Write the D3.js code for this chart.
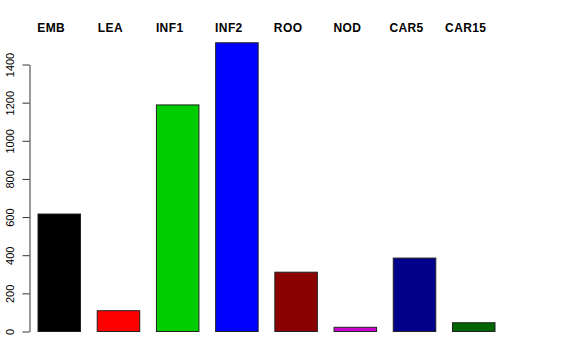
<!DOCTYPE html>
<html>
<head>
<meta charset="utf-8">
<script src="https://cdn.jsdelivr.net/npm/d3@7"></script>
<style>
  body { margin: 0; background: #fff; }
  svg { display: block; font-family: "Liberation Sans", Arial, sans-serif; }
</style>
</head>
<body>
<script>
var categories = ["EMB", "LEA", "INF1", "INF2", "ROO", "NOD", "CAR5", "CAR15"];
var values = [616, 109, 1188, 1514, 311, 22, 385, 46];
var colors = ["#000000", "#ff0000", "#00cd00", "#0000ff", "#8b0000", "#cd00cd", "#00008b", "#006400"];
var yTicks = [0, 200, 400, 600, 800, 1000, 1200, 1400];

var svg = d3.select("body").append("svg")
    .attr("width", 576)
    .attr("height", 360);

var x = d3.scaleBand()
    .domain(categories)
    .range([38, 495])
    .paddingInner(0.282)
    .paddingOuter(0);

var y = d3.scaleLinear()
    .domain([0, 1400])
    .range([331.5, 64.5]);

// bars
svg.selectAll("rect.bar")
    .data(categories)
    .enter()
    .append("rect")
    .attr("class", "bar")
    .attr("x", function (d) { return x(d); })
    .attr("y", function (d, i) { return y(values[i]); })
    .attr("width", x.bandwidth())
    .attr("height", function (d, i) { return y(0) - y(values[i]); })
    .style("fill", function (d, i) { return colors[i]; })
    .style("stroke", "#222")
    .style("stroke-width", 1);

// labels on top
svg.selectAll("text.lab")
    .data(categories)
    .enter()
    .append("text")
    .attr("class", "lab")
    .attr("x", function (d) { return x(d) + x.bandwidth() / 2 - 8; })
    .attr("y", 32)
    .attr("text-anchor", "middle")
    .style("font-size", "12px")
    .style("font-weight", "bold")
    .style("letter-spacing", "0.4px")
    .text(function (d) { return d; });

// y axis, R style
var yAxis = d3.axisLeft(y).tickValues(yTicks).tickFormat(d3.format("d"))
    .tickSize(7).tickSizeOuter(0).tickPadding(0);
var g = svg.append("g")
    .attr("transform", "translate(29.5,0)")
    .call(yAxis);
g.select(".domain").attr("stroke", "#333");
g.selectAll(".tick line").attr("stroke", "#333");
g.selectAll(".tick text")
    .attr("x", 0).attr("dy", 0)
    .attr("text-anchor", "middle")
    .attr("transform", "translate(-16,0) rotate(-90)")
    .style("font-size", "11px")
    .style("font-family", "Liberation Sans, Arial, sans-serif")
    .attr("fill", "#000");
</script>
</body>
</html>
